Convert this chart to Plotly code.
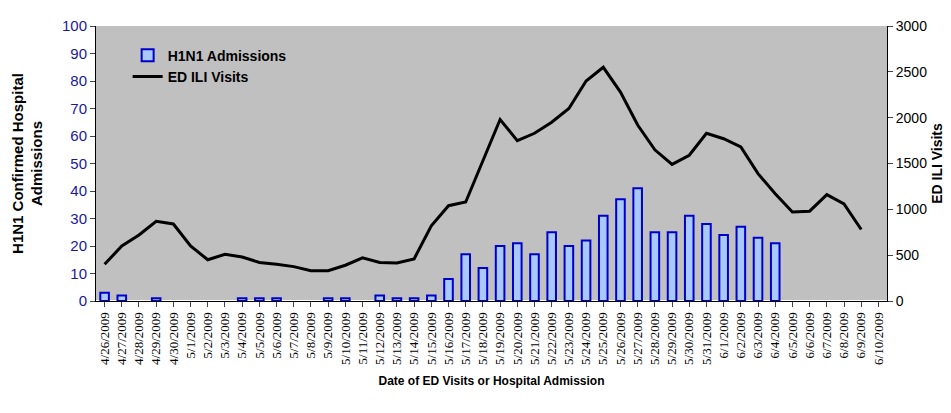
import pandas as pd
import plotly.graph_objects as go

dates = pd.date_range("2009-04-26", "2009-06-10", freq="D")
date_labels = [f"{d.month}/{d.day}/{d.year}" for d in dates]

# None = no admissions reported that day
admissions = [3, 2, None, 1, None, None, None, None, 1, 1, 1, None, None, 1, 1,
              None, 2, 1, 1, 2, 8, 17, 12, 20, 21, 17, 25, 20, 22, 31, 37, 41,
              25, 25, 31, 28, 24, 27, 23, 21, None, None, None, None, None, None]

ed_visits = [400, 600, 720, 870, 840, 600, 450, 510, 480, 420, 400, 375, 330,
             330, 390, 470, 420, 415, 460, 820, 1040, 1080, 1530, 1980, 1750,
             1830, 1950, 2100, 2400, 2550, 2280, 1920, 1650, 1490, 1590, 1830,
             1770, 1680, 1390, 1170, 970, 980, 1160, 1060, 780, None]

fig = go.Figure()
fig.add_trace(go.Bar(
    x=date_labels, y=admissions, name="H1N1 Admissions",
    marker=dict(color="#a8c8ff", line=dict(color="#0000cc", width=2)),
    width=0.5,
))
fig.add_trace(go.Scatter(
    x=date_labels, y=ed_visits, name="ED ILI Visits", yaxis="y2",
    mode="lines", line=dict(color="black", width=3),
))

fig.update_layout(
    width=951, height=413,
    margin=dict(l=87, r=72, t=9, b=120),
    paper_bgcolor="white", plot_bgcolor="#c0c0c0",
    font=dict(family="Liberation Sans, Arial", size=13, color="black"),
    showlegend=True,
    legend=dict(x=0.04, y=0.95, bgcolor="rgba(0,0,0,0)", tracegroupgap=10,
                font=dict(size=14, family="Liberation Sans, Arial", weight="bold")),
    xaxis=dict(
        type="category", tickangle=-90, ticks="outside", showline=True,
        linecolor="black", tickfont=dict(family="Liberation Serif, Times New Roman", size=13),
        title=dict(text="<b>Date of ED Visits or Hospital Admission</b>", standoff=12,
                   font=dict(size=12)),
    ),
    yaxis=dict(
        range=[0, 100.01], tickvals=list(range(0, 101, 10)), showgrid=False,
        ticks="outside", showline=True,
        linecolor="black", tickfont=dict(color="#1a1a99", size=15),
        title=dict(text="<b>H1N1 Confirmed Hospital<br>Admissions</b>", font=dict(size=15)),
    ),
    yaxis2=dict(
        range=[0, 3000.3], tickvals=list(range(0, 3001, 500)), overlaying="y",
        side="right", showgrid=False,
        ticks="outside", showline=True, linecolor="black", tickfont=dict(size=14),
        title=dict(text="<b>ED ILI Visits</b>", font=dict(size=14), standoff=6),
    ),
)

fig.write_html("out.html")
